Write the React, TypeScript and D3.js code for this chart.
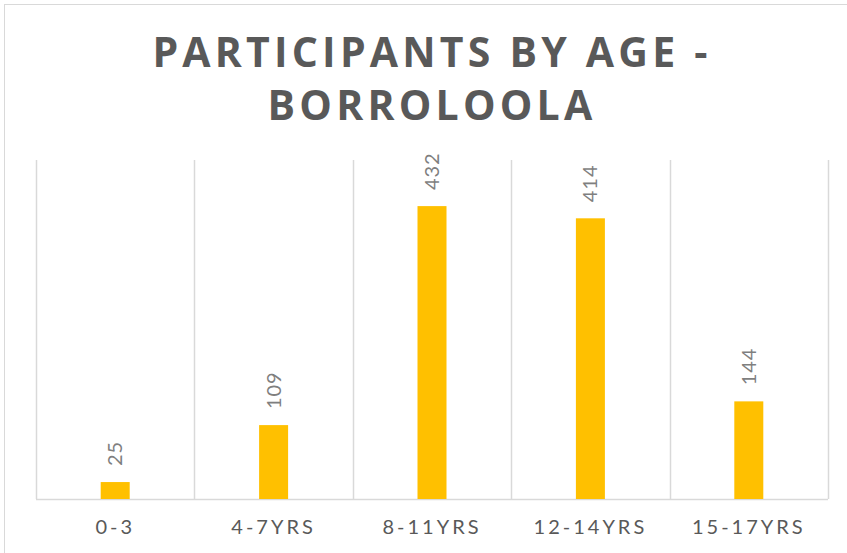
import React, { useEffect, useRef } from 'react';
import * as d3 from 'd3';

const categories = ['0-3', '4-7YRS', '8-11YRS', '12-14YRS', '15-17YRS'];
const participants = [25, 109, 432, 414, 144];
const titleLines = ['PARTICIPANTS BY AGE -', 'BORROLOOLA'];

const W = 847;
const H = 553;

export default function App() {
  const svgRef = useRef<SVGSVGElement | null>(null);

  useEffect(() => {
    const svg = d3.select(svgRef.current);
    svg.selectAll('*').remove();

    // Outer chart frame (only left and top visible)
    svg.append('rect')
      .attr('x', 4.5)
      .attr('y', 4.5)
      .attr('width', W + 20)
      .attr('height', H + 20)
      .attr('fill', '#fff')
      .attr('stroke', '#d9d9d9')
      .attr('stroke-width', 1);

    const margin = { top: 160, right: 19, bottom: 54, left: 36 };
    const width = W - margin.left - margin.right;
    const height = H - margin.top - margin.bottom;

    const x = d3.scaleBand<string>()
      .domain(categories)
      .range([0, width])
      .paddingInner(0)
      .paddingOuter(0);

    const y = d3.scaleLinear().domain([0, 500]).range([height, 0]);

    const g = svg.append('g')
      .attr('transform', `translate(${margin.left},${margin.top})`);

    // Vertical gridlines at category boundaries
    const bounds = categories.map(c => x(c) as number).concat([width]);
    g.selectAll('.grid')
      .data(bounds)
      .enter()
      .append('line')
      .attr('x1', d => Math.round(d) + 0.5)
      .attr('x2', d => Math.round(d) + 0.5)
      .attr('y1', 0)
      .attr('y2', height)
      .attr('stroke', '#d9d9d9')
      .attr('stroke-width', 1.5);

    // Baseline
    g.append('line')
      .attr('x1', 0)
      .attr('x2', width)
      .attr('y1', height + 0.5)
      .attr('y2', height + 0.5)
      .attr('stroke', '#d9d9d9')
      .attr('stroke-width', 1.5);

    const barW = 29;
    g.selectAll('.bar')
      .data(participants)
      .enter()
      .append('rect')
      .attr('x', (d, i) => (x(categories[i]) as number) + x.bandwidth() / 2 - barW / 2)
      .attr('y', d => y(d))
      .attr('width', barW)
      .attr('height', d => height - y(d))
      .attr('fill', '#ffc000');

    // Data labels, rotated
    g.selectAll('.lbl')
      .data(participants)
      .enter()
      .append('text')
      .attr('transform', (d, i) => {
        const cx = (x(categories[i]) as number) + x.bandwidth() / 2;
        return `translate(${cx + 7},${y(d) - 16}) rotate(-90)`;
      })
      .attr('text-anchor', 'start')
      .style('font-family', 'Lato, sans-serif')
      .style('font-size', '20px')
      .style('letter-spacing', '1px')
      .attr('fill', '#7f7f7f')
      .text(d => d);

    // Category labels
    g.selectAll('.cat')
      .data(categories)
      .enter()
      .append('text')
      .attr('x', d => (x(d) as number) + x.bandwidth() / 2)
      .attr('y', height + 35)
      .attr('text-anchor', 'middle')
      .style('font-family', 'Lato, sans-serif')
      .style('font-size', '20px')
      .style('letter-spacing', '3px')
      .attr('fill', '#595959')
      .text(d => d);

    // Title
    svg.selectAll('.title')
      .data(titleLines)
      .enter()
      .append('text')
      .attr('x', 432)
      .attr('y', (d, i) => 67 + i * 53)
      .attr('text-anchor', 'middle')
      .style('font-family', '"Open Sans", sans-serif')
      .style('font-weight', 700)
      .style('font-size', '41px')
      .style('letter-spacing', '4.2px')
      .attr('fill', '#595959')
      .text(d => d);
  }, []);

  return (
    <svg
      ref={svgRef}
      width={W}
      height={H}
      style={{ position: 'absolute', left: 0, top: 0, display: 'block', background: '#fff' }}
    />
  );
}
